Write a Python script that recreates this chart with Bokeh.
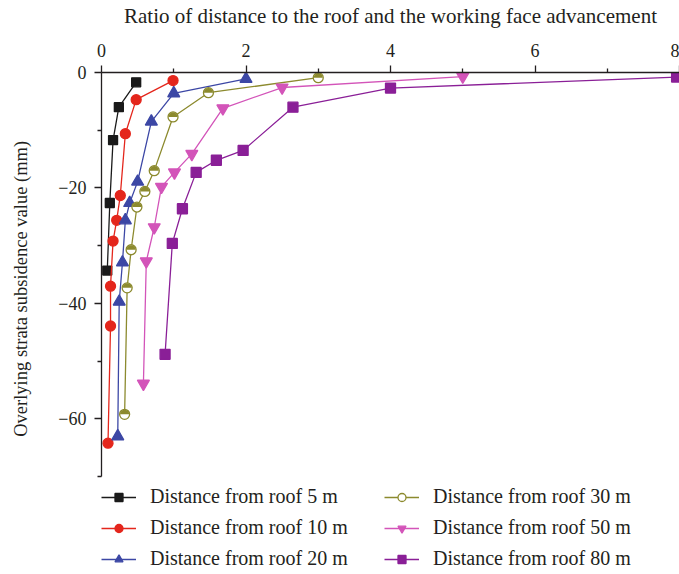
import numpy as np
from bokeh.plotting import figure
from bokeh.models import Range1d, FixedTicker, CustomJSTickFormatter, Legend, LegendItem
from bokeh.embed import file_html
from bokeh.resources import INLINE

FONT = "Liberation Serif"

# ---- data ----
x5 = [0.48, 0.24, 0.16, 0.115, 0.08]
y5 = [-1.7, -6.0, -11.7, -22.6, -34.3]

x10 = [0.99, 0.48, 0.33, 0.26, 0.21, 0.16, 0.125, 0.125, 0.09]
y10 = [-1.4, -4.7, -10.6, -21.3, -25.6, -29.2, -37.0, -43.9, -64.2]

x20 = [2.0, 1.0, 0.69, 0.5, 0.39, 0.33, 0.29, 0.245, 0.225]
y20 = [-1.1, -3.6, -8.5, -18.9, -22.6, -25.6, -32.9, -39.7, -63.0]

x30 = [3.0, 1.48, 0.99, 0.73, 0.6, 0.49, 0.41, 0.355, 0.32]
y30 = [-0.9, -3.5, -7.7, -17.0, -20.6, -23.3, -30.7, -37.3, -59.2]

x50 = [5.0, 2.5, 1.68, 1.25, 1.01, 0.83, 0.73, 0.62, 0.58]
y50 = [-0.7, -2.6, -6.2, -14.1, -17.3, -19.8, -26.8, -32.7, -53.9]

x80 = [7.96, 4.0, 2.65, 1.96, 1.59, 1.31, 1.12, 0.98, 0.88]
y80 = [-0.8, -2.7, -6.0, -13.5, -15.2, -17.3, -23.6, -29.6, -48.8]

labels = ["Distance from roof 5 m", "Distance from roof 10 m", "Distance from roof 20 m",
          "Distance from roof 30 m", "Distance from roof 50 m", "Distance from roof 80 m"]

x_major = [0, 2, 4, 6, 8]
x_minor = [1, 3, 5, 7]
y_major = [0, -20, -40, -60]
y_minor = [-10, -30, -50, -70]

x_title = "Ratio of distance to the roof and the working face advancement"
y_title = "Overlying strata subsidence value (mm)"

# ---- figure ----
# frame extends below the axis bottom (-70) to host the legend
p = figure(width=679, height=574, output_backend="svg", toolbar_location=None,
           x_range=Range1d(0, 8), y_range=Range1d(-86.94, 0),
           x_axis_location="above",
           min_border_left=101, min_border_right=0, min_border_top=71, min_border_bottom=0)
p.outline_line_color = None
p.grid.visible = False
p.background_fill_color = "white"

AX = "#231f20"
for ax in (p.xaxis[0], p.yaxis[0]):
    ax.axis_line_color = AX
    ax.axis_line_width = 1.3
    ax.major_tick_line_color = AX
    ax.minor_tick_line_color = AX
    ax.major_tick_line_width = 1.3
    ax.minor_tick_line_width = 1.3
    ax.major_tick_out = 7
    ax.major_tick_in = 0
    ax.minor_tick_out = 4
    ax.minor_tick_in = 0
    ax.major_label_text_font = FONT
    ax.major_label_text_font_size = "18px"
    ax.major_label_text_color = AX
    ax.axis_label_text_font = FONT
    ax.axis_label_text_font_style = "normal"
    ax.axis_label_text_color = AX

p.yaxis.bounds = (-70, 0)
p.xaxis.major_label_standoff = 9
p.yaxis.major_label_standoff = 8
p.xaxis.axis_label_text_font_size = "21px"
p.yaxis.axis_label_text_font_size = "18.5px"

p.xaxis.ticker = FixedTicker(ticks=x_major, minor_ticks=x_minor)
p.yaxis.ticker = FixedTicker(ticks=y_major, minor_ticks=y_minor)
p.yaxis.formatter = CustomJSTickFormatter(code="return tick < 0 ? '\u2212' + Math.abs(tick) : String(tick);")
p.xaxis.axis_label = x_title
# leading no-break spaces move the centred (rotated) label up to sit beside the axis span
p.yaxis.axis_label = "\u00a0" * 15 + y_title
p.xaxis.axis_label_standoff = 13
p.yaxis.axis_label_standoff = 24

series = [
    (x5, y5, "#1a1a1a", "square", 9, "#1a1a1a", 6),
    (x10, y10, "#e4261c", "circle", 10, "#e4261c", 7.5),
    (x20, y20, "#3c47a5", "triangle", 12, "#3c47a5", 9),
    (x30, y30, "#8c8a2e", "circle", 10, "white", 7),
    (x50, y50, "#d354b9", "inverted_triangle", 12, "#d354b9", 9),
    (x80, y80, "#8a1f97", "square", 10, "#8a1f97", 7),
]

items = []
for i, (xs, ys, col, mk, sz, fill, lsz) in enumerate(series):
    rl = p.line(xs, ys, line_color=col, line_width=1.3)
    p.scatter(xs, ys, marker=mk, size=sz, fill_color=fill, line_color=col, line_width=1.3)
    if i == 3:
        p.wedge(xs, ys, radius=4.6, radius_units="screen", start_angle=0, end_angle=np.pi,
                fill_color=col, line_color=None)
    # legend-only marker (smaller, placed outside the visible ranges)
    rleg = p.scatter([-100], [-100], marker=mk, size=lsz, fill_color=fill, line_color=col,
                     line_width=1.3)
    items.append(LegendItem(label=labels[i], renderers=[rl, rleg]))

legend = Legend(items=items, location=(0, 4), orientation="vertical", nrows=3,
                glyph_width=35, glyph_height=20, label_height=20, label_width=226,
                label_standoff=14, spacing=8, padding=0, margin=0,
                label_text_font=FONT, label_text_font_size="20px", label_text_color=AX,
                background_fill_alpha=0, border_line_color=None)
p.add_layout(legend, "center")

open("out.html", "w").write(file_html(p, INLINE))
